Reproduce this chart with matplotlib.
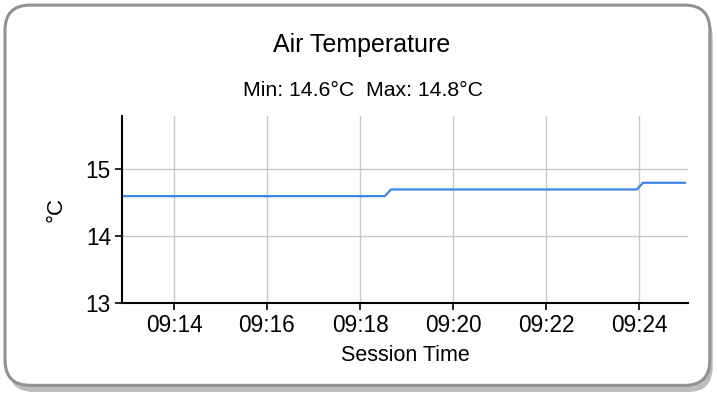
import matplotlib
matplotlib.use("Agg")
import matplotlib.pyplot as plt
import matplotlib.patches as patches
import matplotlib.dates as mdates
import pandas as pd

plt.rcParams['font.family'] = ['Liberation Sans', 'DejaVu Sans']

# Logged air temperature, one reading where the value changes
times = ["09:12:55", "09:18:32", "09:18:40", "09:23:57", "09:24:05", "09:24:59"]
temps = [14.6, 14.6, 14.7, 14.7, 14.8, 14.8]
tick_times = ["09:14", "09:16", "09:18", "09:20", "09:22", "09:24"]

t = pd.to_datetime(["2024-01-01 " + s for s in times])
ticks = pd.to_datetime(["2024-01-01 " + s for s in tick_times])

fig = plt.figure(figsize=(7.17, 3.94), dpi=100)
fig.patch.set_facecolor('white')

# card with drop shadow
shadow = patches.FancyBboxPatch((0.012, 0.005), 0.982, 0.965,
                                boxstyle="round,pad=0,rounding_size=0.035",
                                transform=fig.transFigure, facecolor='#bdbdbd',
                                edgecolor='none', zorder=0, mutation_aspect=717/394)
card = patches.FancyBboxPatch((0.007, 0.022), 0.983, 0.965,
                              boxstyle="round,pad=0,rounding_size=0.035",
                              transform=fig.transFigure, facecolor='white',
                              edgecolor='#919191', linewidth=2.2, zorder=1,
                              mutation_aspect=717/394)
fig.patches.extend([shadow, card])

ax = fig.add_axes([122/717, 1 - 303/394, (688 - 122)/717, (303 - 116)/394])
ax.set_facecolor('none')
ax.set_zorder(2)

ax.plot(t, temps, color='#3c86e8', linewidth=1.6)

ax.set_ylim(13, 15.8)
ax.set_yticks([13, 14, 15])
ax.set_xlim(pd.Timestamp("2024-01-01 09:12:53"), pd.Timestamp("2024-01-01 09:25:03"))
ax.set_xticks(ticks)
ax.xaxis.set_major_formatter(mdates.DateFormatter('%H:%M'))

ax.grid(True, color='#c8c8c8', linewidth=1)
ax.set_axisbelow(True)
for s in ['top', 'right']:
    ax.spines[s].set_visible(False)
ax.spines['left'].set_linewidth(1.5)
ax.spines['bottom'].set_linewidth(1.5)
ax.tick_params(labelsize=16.3, length=5, width=1.2, colors='black', pad=3)

ax.set_xlabel("Session Time", fontsize=15.5, labelpad=6)
ax.set_ylabel("°C", fontsize=16, labelpad=14)

fig.text(362/717, 1 - 45/394, "Air Temperature", ha='center', va='center', fontsize=18)
fig.text(363/717, 1 - 90/394, "Min: 14.6°C  Max: 14.8°C", ha='center', va='center', fontsize=15.3)

fig.savefig("out.png", dpi=100)
